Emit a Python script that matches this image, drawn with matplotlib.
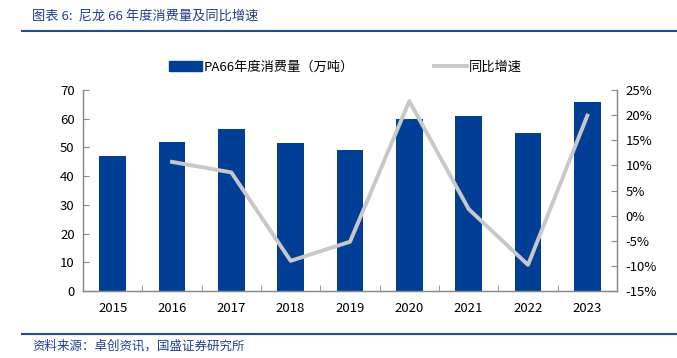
import matplotlib
matplotlib.use("Agg")
import matplotlib.pyplot as plt
from matplotlib.ticker import FuncFormatter, MultipleLocator
from matplotlib.lines import Line2D
from matplotlib.patches import Patch

plt.rcParams['font.family'] = ['Noto Sans CJK SC', 'DejaVu Sans']

years = ["2015", "2016", "2017", "2018", "2019", "2020", "2021", "2022", "2023"]
consumption = [47.0, 52.0, 56.5, 51.5, 49.0, 60.0, 60.8, 55.0, 65.7]
growth_years = ["2016", "2017", "2018", "2019", "2020", "2021", "2022", "2023"]
growth = [10.7, 8.6, -9.0, -5.2, 22.8, 1.3, -9.8, 19.9]

bar_color = "#003F95"
line_color = "#C8C8C8"
title_color = "#1F3F8F"

fig = plt.figure(figsize=(6.77, 3.58), dpi=100)
W, H = 677, 358
ax = fig.add_axes([83 / W, 1 - 291 / H, (617 - 83) / W, (291 - 90) / H])
ax2 = ax.twinx()

x = list(range(len(years)))
ax.bar(x, consumption, width=0.45, color=bar_color, zorder=2)
gx = [years.index(y) for y in growth_years]
ax2.plot(gx, growth, color=line_color, lw=2.8, zorder=3)

ax.set_xlim(-0.5, len(years) - 0.5)
ax.set_ylim(0, 70)
ax.yaxis.set_major_locator(MultipleLocator(10))
ax2.set_ylim(-15, 25)
ax2.yaxis.set_major_locator(MultipleLocator(5))
ax2.yaxis.set_major_formatter(FuncFormatter(lambda v, p: f"{int(round(v))}%"))

ax.set_xticks(x)
ax.set_xticklabels(years)
ax.set_xticks([i + 0.5 for i in x[:-1]], minor=True)
ax.tick_params(axis='x', which='major', length=0, pad=8, labelsize=9.5, colors='black')
ax.tick_params(axis='x', which='minor', length=4, direction='in', color='#888888')
ax.tick_params(axis='y', direction='in', length=4, color='#888888', labelsize=9.5, pad=6)
ax2.tick_params(axis='y', direction='in', length=4, color='#888888', labelsize=9.5, pad=6)

for a in (ax, ax2):
    a.spines['top'].set_visible(False)
    for s in ('left', 'right', 'bottom'):
        a.spines[s].set_color('#888888')
        a.spines[s].set_linewidth(0.9)

ax.set_zorder(ax2.get_zorder() - 1)
ax.patch.set_visible(True)
ax2.patch.set_visible(False)

handles = [Patch(facecolor=bar_color, edgecolor=bar_color),
           Line2D([0], [0], color=line_color, lw=2.8)]
labels = ["PA66年度消费量（万吨）", "同比增速"]
fig.legend(handles, labels, loc='center', bbox_to_anchor=(0.51, 1 - 67 / H),
           ncol=2, frameon=False, fontsize=9.5, columnspacing=6.0,
           handlelength=2.5, handletextpad=0.15)

fig.text(32 / W, 1 - 17 / H, "图表 6:  尼龙 66 年度消费量及同比增速", color=title_color,
         fontsize=9.5, style='italic', va='center', ha='left')
fig.add_artist(Line2D([22 / W, 1], [1 - 31 / H, 1 - 31 / H], color='#1F4E96', lw=1.5))
fig.add_artist(Line2D([22 / W, 1], [1 - 334 / H, 1 - 334 / H], color='#1F4E96', lw=1.5))
fig.text(32 / W, 1 - 346 / H, "资料来源：卓创资讯，国盛证券研究所", color=title_color,
         fontsize=9, style='italic', va='center', ha='left')

fig.savefig("out.png", dpi=100)
